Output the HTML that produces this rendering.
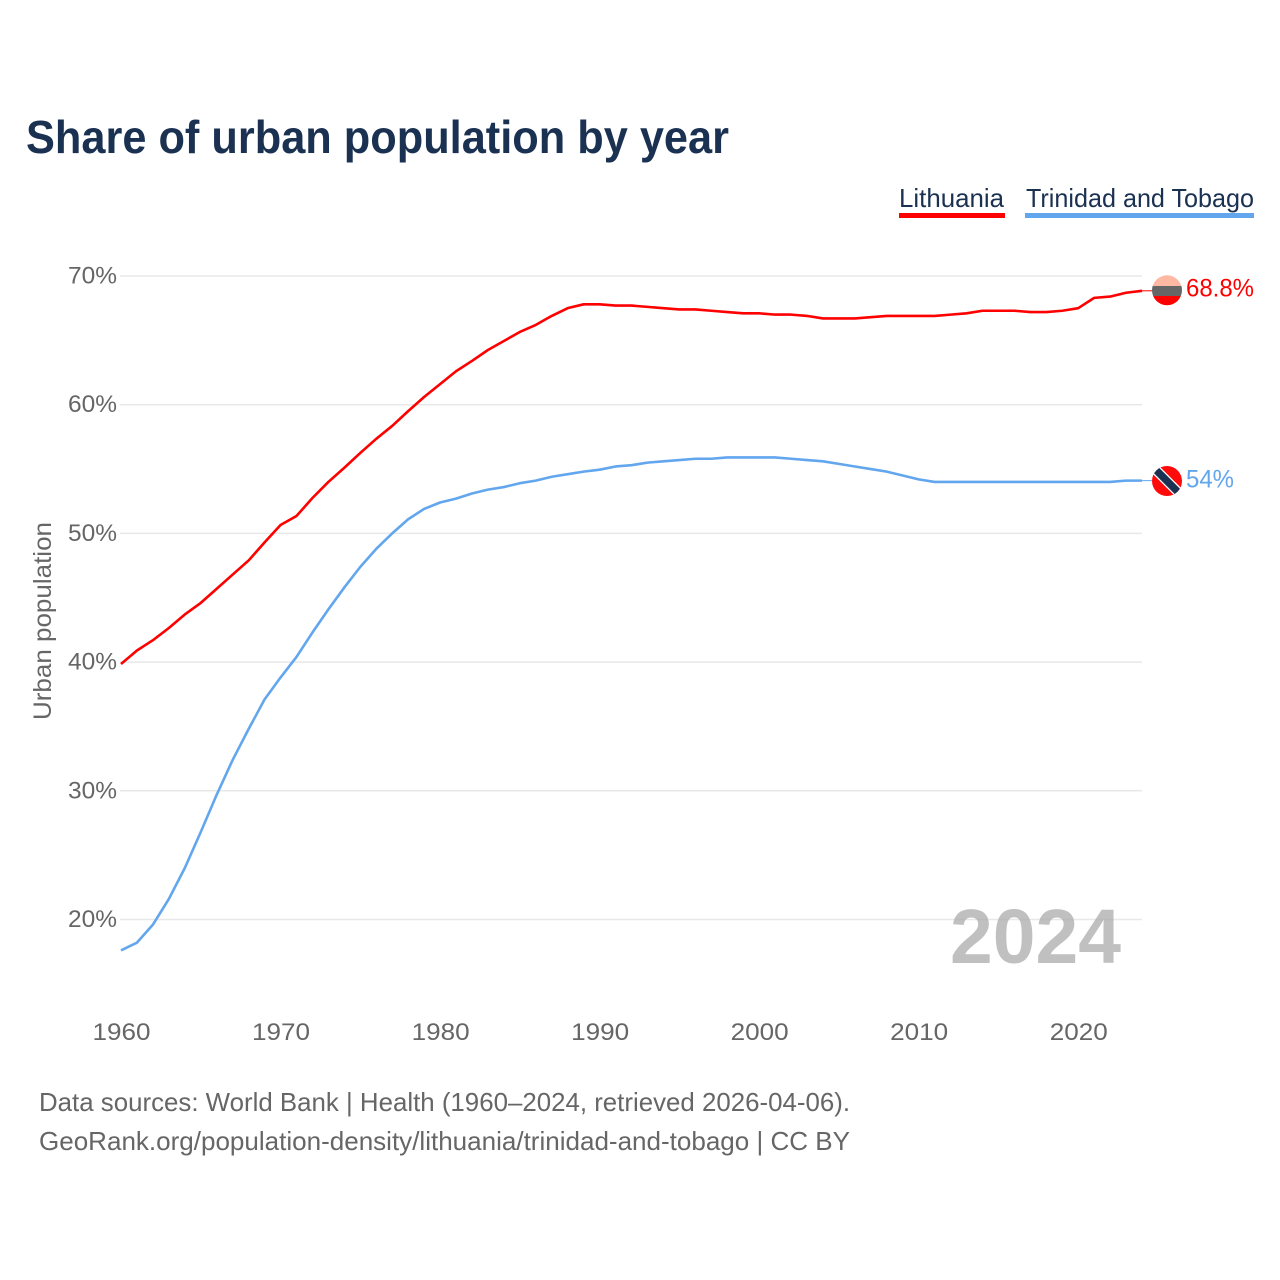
<!DOCTYPE html>
<html lang="en">
<head>
<meta charset="utf-8">
<title>Share of urban population by year</title>
<style>
html,body{margin:0;padding:0;background:#fff;}
svg{display:block;}
text{font-family:"Liberation Sans",sans-serif;}
</style>
</head>
<body>
<svg id="chart" xmlns="http://www.w3.org/2000/svg" width="1280" height="1280" viewBox="0 0 1280 1280">
  <rect x="0" y="0" width="1280" height="1280" fill="#ffffff"/>
  <text x="26" y="153" font-size="46" font-weight="700" fill="#1a3152" textLength="703" lengthAdjust="spacingAndGlyphs">Share of urban population by year</text>

  <g>
    <text x="899" y="207" font-size="26" fill="#1a3152" textLength="105" lengthAdjust="spacingAndGlyphs">Lithuania</text>
    <rect x="899" y="213" width="106" height="5" fill="#ff0000"/>
  </g>
  <g>
    <text x="1026" y="207" font-size="26" fill="#1a3152" textLength="228" lengthAdjust="spacingAndGlyphs">Trinidad and Tobago</text>
    <rect x="1025" y="213" width="229" height="5" fill="#62a6ee"/>
  </g>

  <g id="grid"></g>
  <g id="yticks"></g>
  <g id="xticks"></g>
  <text transform="translate(51,720) rotate(-90)" font-size="25" fill="#666666" textLength="198" lengthAdjust="spacingAndGlyphs">Urban population</text>

  <text x="950" y="963" font-size="77" font-weight="700" fill="#a8a8a8" fill-opacity="0.72" textLength="171" lengthAdjust="spacingAndGlyphs">2024</text>

  <g id="series"></g>

  <g>
    <clipPath id="clip-lt"><circle cx="1167" cy="290.3" r="15"/></clipPath>
    <g clip-path="url(#clip-lt)">
      <rect x="1150" y="274" width="34" height="12" fill="#ffb9a2"/>
      <rect x="1150" y="286" width="34" height="10" fill="#666666"/>
      <rect x="1150" y="296" width="34" height="11" fill="#ff0000"/>
    </g>
  </g>
  <g>
    <clipPath id="clip-tt"><circle cx="1167" cy="481" r="15"/></clipPath>
    <g clip-path="url(#clip-tt)">
      <rect x="1150" y="464" width="34" height="34" fill="#ff0a0a"/>
      <line x1="1153" y1="467" x2="1181" y2="495" stroke="#ffffff" stroke-width="10"/>
      <line x1="1153" y1="467" x2="1181" y2="495" stroke="#1a3152" stroke-width="7.5"/>
    </g>
  </g>

  <text x="1186" y="296.5" font-size="25" fill="#ff0000" textLength="68" lengthAdjust="spacingAndGlyphs">68.8%</text>
  <text x="1186" y="487.5" font-size="25" fill="#62a6ee" textLength="48" lengthAdjust="spacingAndGlyphs">54%</text>

  <text x="39" y="1111" font-size="26" fill="#666666" textLength="811" lengthAdjust="spacingAndGlyphs">Data sources: World Bank | Health (1960–2024, retrieved 2026-04-06).</text>
  <text x="39" y="1150" font-size="26" fill="#666666" textLength="811" lengthAdjust="spacingAndGlyphs">GeoRank.org/population-density/lithuania/trinidad-and-tobago | CC BY</text>
</svg>
<script>
const years = [1960,1961,1962,1963,1964,1965,1966,1967,1968,1969,
  1970,1971,1972,1973,1974,1975,1976,1977,1978,1979,
  1980,1981,1982,1983,1984,1985,1986,1987,1988,1989,
  1990,1991,1992,1993,1994,1995,1996,1997,1998,1999,
  2000,2001,2002,2003,2004,2005,2006,2007,2008,2009,
  2010,2011,2012,2013,2014,2015,2016,2017,2018,2019,
  2020,2021,2022,2023,2024];
const lithuania = [39.85,40.9,41.7,42.65,43.7,44.6,45.7,46.8,47.9,49.3,
  50.65,51.35,52.75,54.0,55.1,56.25,57.35,58.35,59.5,60.6,
  61.6,62.6,63.4,64.25,64.95,65.65,66.2,66.9,67.5,67.8,
  67.8,67.7,67.7,67.6,67.5,67.4,67.4,67.3,67.2,67.1,
  67.1,67.0,67.0,66.9,66.7,66.7,66.7,66.8,66.9,66.9,
  66.9,66.9,67.0,67.1,67.3,67.3,67.3,67.2,67.2,67.3,
  67.5,68.3,68.4,68.7,68.85];
const trinidadAndTobago = [17.6,18.2,19.6,21.6,24.0,26.8,29.7,32.4,34.8,37.1,
  38.8,40.4,42.3,44.1,45.8,47.4,48.8,50.0,51.1,51.9,
  52.4,52.7,53.1,53.4,53.6,53.9,54.1,54.4,54.6,54.8,
  54.95,55.2,55.3,55.5,55.6,55.7,55.8,55.8,55.9,55.9,
  55.9,55.9,55.8,55.7,55.6,55.4,55.2,55.0,54.8,54.5,
  54.2,54.0,54.0,54.0,54.0,54.0,54.0,54.0,54.0,54.0,
  54.0,54.0,54.0,54.1,54.1];
const yTickValues = [20,30,40,50,60,70];
const yTickLabels = ["20%","30%","40%","50%","60%","70%"];
const xTickValues = [1960,1970,1980,1990,2000,2010,2020];
const xTickLabels = ["1960","1970","1980","1990","2000","2010","2020"];

const SVG_NS = "http://www.w3.org/2000/svg";
function xScale(year) { return 121 + (year - 1960) * (1142 - 121) / 64; }
function yScale(pct) { return 919.5 - (pct - 20) * (919.5 - 276) / 50; }

const gridGroup = document.getElementById("grid");
const yTickGroup = document.getElementById("yticks");
yTickValues.forEach(function (value, i) {
  const line = document.createElementNS(SVG_NS, "line");
  
  
  line.setAttribute("x1", 120);
  line.setAttribute("x2", 1142);
  line.setAttribute("y1", yScale(value));
  line.setAttribute("y2", yScale(value));
  line.setAttribute("stroke", "#e8e8e8");
  line.setAttribute("stroke-width", "1.5");
  gridGroup.appendChild(line);

  const label = document.createElementNS(SVG_NS, "text");
  
  
  label.setAttribute("x", 68);
  label.setAttribute("y", yScale(value) + 7.5);
  label.setAttribute("font-size", "24");
  label.setAttribute("fill", "#666666");
  label.setAttribute("textLength", "49");
  label.setAttribute("lengthAdjust", "spacingAndGlyphs");
  label.textContent = yTickLabels[i];
  yTickGroup.appendChild(label);
});

const xTickGroup = document.getElementById("xticks");
xTickValues.forEach(function (value, i) {
  const label = document.createElementNS(SVG_NS, "text");
  
  
  label.setAttribute("x", xScale(value) - 28.5);
  label.setAttribute("y", 1040);
  label.setAttribute("font-size", "24");
  label.setAttribute("fill", "#666666");
  label.setAttribute("textLength", "58");
  label.setAttribute("lengthAdjust", "spacingAndGlyphs");
  label.textContent = xTickLabels[i];
  xTickGroup.appendChild(label);
});

function linePoints(values) {
  return values.map(function (v, i) {
    return xScale(years[i]).toFixed(2) + "," + yScale(v).toFixed(2);
  }).join(" ");
}

const seriesGroup = document.getElementById("series");

const trinidadLine = document.createElementNS(SVG_NS, "polyline");


trinidadLine.setAttribute("points", linePoints(trinidadAndTobago));
trinidadLine.setAttribute("fill", "none");
trinidadLine.setAttribute("stroke", "#62a6ee");
trinidadLine.setAttribute("stroke-width", "2.6");
trinidadLine.setAttribute("stroke-linejoin", "round");
seriesGroup.appendChild(trinidadLine);

const lithuaniaLine = document.createElementNS(SVG_NS, "polyline");


lithuaniaLine.setAttribute("points", linePoints(lithuania));
lithuaniaLine.setAttribute("fill", "none");
lithuaniaLine.setAttribute("stroke", "#ff0000");
lithuaniaLine.setAttribute("stroke-width", "2.6");
lithuaniaLine.setAttribute("stroke-linejoin", "round");
seriesGroup.appendChild(lithuaniaLine);

const trinidadLeader = document.createElementNS(SVG_NS, "line");


trinidadLeader.setAttribute("x1", xScale(2024));
trinidadLeader.setAttribute("x2", xScale(2024) + 11);
trinidadLeader.setAttribute("y1", yScale(trinidadAndTobago[64]));
trinidadLeader.setAttribute("y2", yScale(trinidadAndTobago[64]));
trinidadLeader.setAttribute("stroke", "#62a6ee");
trinidadLeader.setAttribute("stroke-width", "1");
seriesGroup.appendChild(trinidadLeader);

const lithuaniaLeader = document.createElementNS(SVG_NS, "line");


lithuaniaLeader.setAttribute("x1", xScale(2024));
lithuaniaLeader.setAttribute("x2", xScale(2024) + 11);
lithuaniaLeader.setAttribute("y1", yScale(lithuania[64]));
lithuaniaLeader.setAttribute("y2", yScale(lithuania[64]));
lithuaniaLeader.setAttribute("stroke", "#ff0000");
lithuaniaLeader.setAttribute("stroke-width", "1");
seriesGroup.appendChild(lithuaniaLeader);
</script>
</body>
</html>
